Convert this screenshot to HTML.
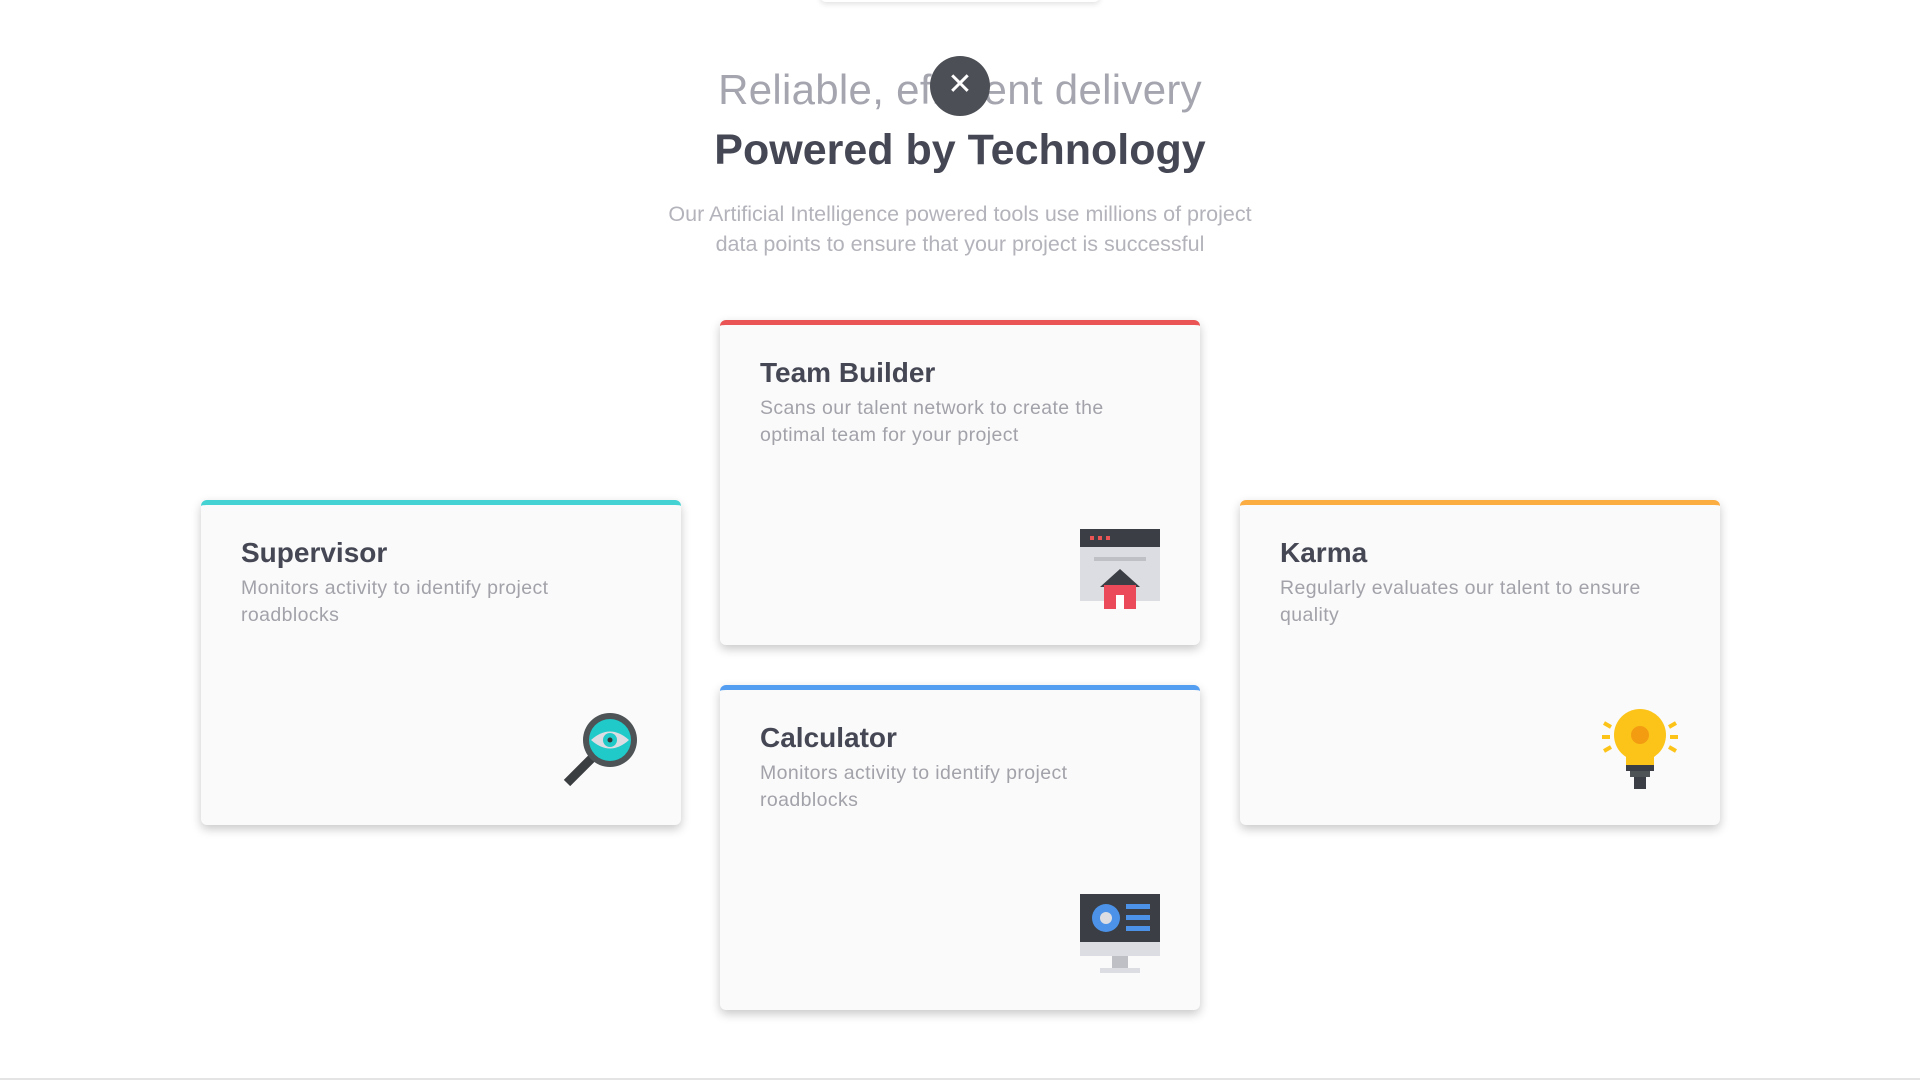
<!DOCTYPE html>
<html><head><meta charset="utf-8"><style>
*{margin:0;padding:0;box-sizing:border-box}
body{width:1920px;height:1080px;background:#fff;position:relative;overflow:hidden;font-family:"Liberation Sans",sans-serif}
.h1{position:absolute;left:0;width:1920px;text-align:center;top:66px;font-size:42px;color:#a4a5ae;font-weight:300;letter-spacing:0.3px}
.h2{position:absolute;left:0;width:1920px;text-align:center;top:126px;font-size:43px;color:#454754;font-weight:bold}
.sub{position:absolute;left:0;width:1920px;text-align:center;top:199px;font-size:21.5px;line-height:30px;color:#b3b3bb}
.x{position:absolute;left:930px;top:56px;width:60px;height:60px;border-radius:50%;background:#4c4f55;color:#fff;font-size:30px;text-align:center;line-height:58px}
.card{position:absolute;width:480px;height:325px;background:#fafafa;border-radius:6px;box-shadow:0 4px 10px rgba(0,0,0,.22);border-top:5px solid}
.card h3{position:absolute;left:40px;top:32px;font-size:28px;color:#454754;font-weight:bold}
.card p{position:absolute;left:40px;top:70px;width:430px;font-size:19.5px;letter-spacing:0.4px;line-height:27px;color:#a2a2aa}
.ic{position:absolute;right:40px;bottom:36px;width:80px;height:80px}
.top{position:absolute;left:820px;top:-10px;width:280px;height:12px;border-radius:6px;box-shadow:0 2px 6px rgba(0,0,0,.12);background:#fff}
.line{position:absolute;left:0;top:1078px;width:1920px;height:2px;background:#e4e4e4}
</style></head><body>
<div class="top"></div>
<div class="h1">Reliable, efficient delivery</div>
<div class="x">✕</div>
<div class="h2">Powered by Technology</div>
<div class="sub">Our Artificial Intelligence powered tools use millions of project<br>data points to ensure that your project is successful</div>

<div class="card" style="left:201px;top:500px;border-color:#45d2d2">
<h3>Supervisor</h3><p>Monitors activity to identify project<br>roadblocks</p>
<svg class="ic" viewBox="0 0 80 80"><line x1="6" y1="74" x2="32" y2="48" stroke="#3b3e41" stroke-width="9"/><circle cx="49" cy="31" r="27" fill="#4e5356"/><circle cx="49" cy="31" r="21" fill="#1fcac9"/><path d="M30 31 Q49 14 68 31 Q49 48 30 31Z" fill="#dcdde3"/><circle cx="49" cy="31" r="7" fill="#1fcac9"/><circle cx="49" cy="31" r="2.5" fill="#333"/></svg>
</div>

<div class="card" style="left:720px;top:320px;border-color:#ea5454">
<h3>Team Builder</h3><p>Scans our talent network to create the<br>optimal team for your project</p>
<svg class="ic" viewBox="0 0 80 80"><rect x="0" y="0" width="80" height="72" fill="#dcdde3"/><rect x="0" y="0" width="80" height="18" fill="#3b3e44"/><rect x="10" y="7" width="4" height="4" fill="#ea5454"/><rect x="18" y="7" width="4" height="4" fill="#ea5454"/><rect x="26" y="7" width="4" height="4" fill="#ea5454"/><rect x="14" y="28" width="52" height="4" fill="#bfc0c6"/><polygon points="40,40 20,58 60,58" fill="#3b3e44"/><rect x="24" y="56" width="32" height="24" fill="#ea4a5a"/><rect x="36" y="66" width="8" height="14" fill="#fff"/></svg>
</div>

<div class="card" style="left:720px;top:685px;border-color:#549ef2">
<h3>Calculator</h3><p>Monitors activity to identify project<br>roadblocks</p>
<svg class="ic" viewBox="0 0 80 80"><rect x="0" y="0" width="80" height="62" fill="#dcdde3"/><rect x="0" y="0" width="80" height="48" fill="#3b3e44"/><circle cx="26" cy="24" r="14" fill="#4b92e8"/><circle cx="26" cy="24" r="6" fill="#dcdde3"/><rect x="46" y="10" width="24" height="5" fill="#4b92e8"/><rect x="46" y="21" width="24" height="5" fill="#4b92e8"/><rect x="46" y="32" width="24" height="5" fill="#4b92e8"/><rect x="32" y="62" width="16" height="12" fill="#bfc0c6"/><rect x="20" y="74" width="40" height="5" fill="#dcdde3"/></svg>
</div>

<div class="card" style="left:1240px;top:500px;border-color:#fcad42">
<h3>Karma</h3><p>Regularly evaluates our talent to ensure<br>quality</p>
<svg class="ic" viewBox="0 0 80 80"><g stroke="#fcc419" stroke-width="4"><line x1="2" y1="28" x2="10" y2="28"/><line x1="70" y1="28" x2="78" y2="28"/><line x1="4" y1="14" x2="11" y2="18"/><line x1="76" y1="14" x2="69" y2="18"/><line x1="4" y1="42" x2="11" y2="38"/><line x1="76" y1="42" x2="69" y2="38"/></g><circle cx="40" cy="26" r="26" fill="#fcc419"/><rect x="26" y="40" width="28" height="18" fill="#fcc419"/><circle cx="40" cy="26" r="9" fill="#f39c12"/><rect x="26" y="56" width="28" height="6" fill="#3b3e44"/><rect x="30" y="62" width="20" height="6" fill="#4e5356"/><rect x="34" y="68" width="12" height="12" fill="#3b3e44"/></svg>
</div>
<div class="line"></div>
</body></html>
